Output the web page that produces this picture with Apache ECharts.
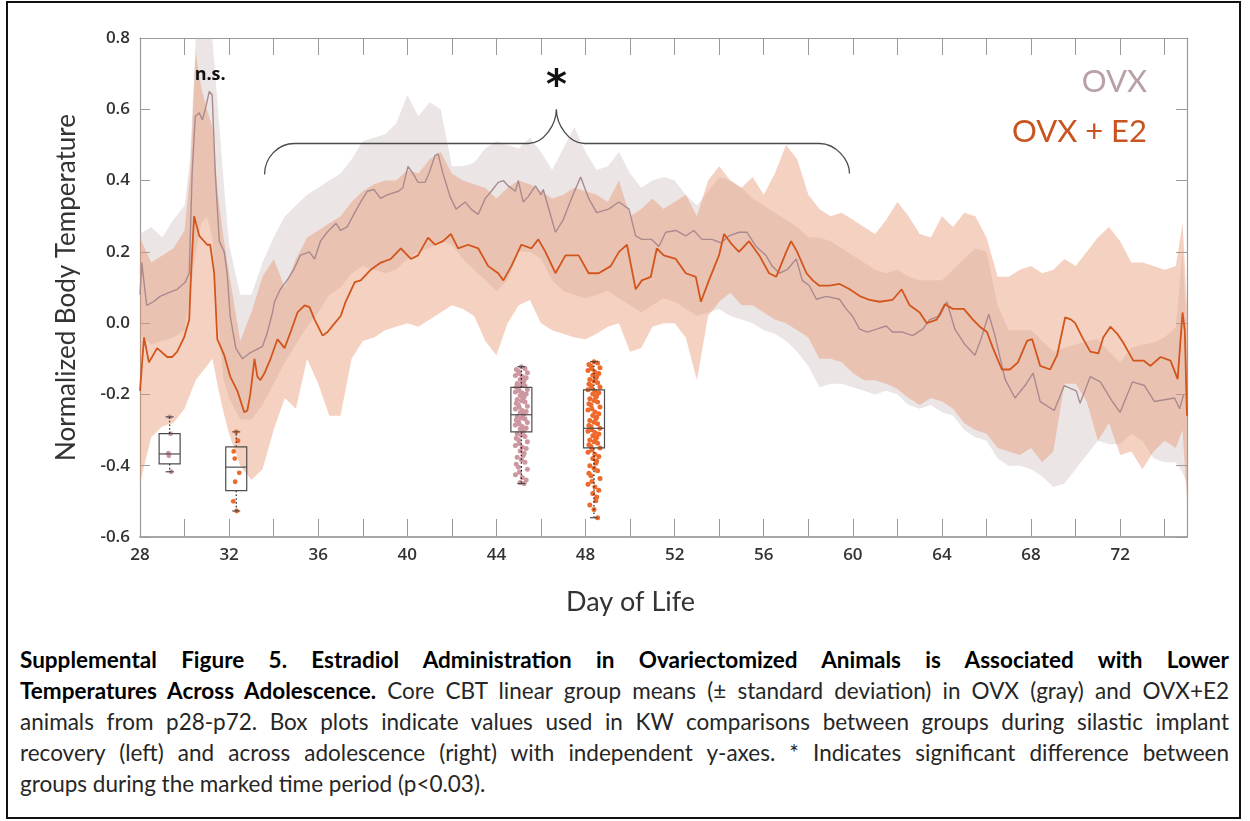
<!DOCTYPE html>
<html>
<head>
<meta charset="utf-8">
<title>Supplemental Figure 5</title>
<script src="https://cdn.jsdelivr.net/npm/echarts/dist/echarts.min.js"></script>
<style>
  html, body { margin: 0; padding: 0; background: #fff; }
  #frame { position: absolute; left: 6px; top: 1px; width: 1235px; height: 818px; border: 2px solid #111; box-sizing: border-box; }
  #chart { position: absolute; left: 0; top: 0; width: 1250px; height: 640px; }
  #caption { position: absolute; left: 20px; top: 644px; width: 1209px; font-family: Lato, "Open Sans", sans-serif; font-size: 22.5px; line-height: 31px; color: #262626; }
  #caption div { text-align: justify; text-align-last: justify; }
  #caption div.last { text-align-last: left; }
  #caption b { color: #000; font-weight: 700; }
</style>
</head>
<body>
<div id="frame"></div>
<div id="chart"></div>
<div id="caption">
  <div><b>Supplemental Figure 5. Estradiol Administration in Ovariectomized Animals is Associated with Lower</b></div>
  <div><b>Temperatures Across Adolescence.</b> Core CBT linear group means (± standard deviation) in OVX (gray) and OVX+E2</div>
  <div>animals from p28-p72. Box plots indicate values used in KW comparisons between groups during silastic implant</div>
  <div>recovery (left) and across adolescence (right) with independent y-axes. * Indicates significant difference between</div>
  <div class="last">groups during the marked time period (p&lt;0.03).</div>
</div>
<script>
// ---- Day grid used by the standard-deviation bands ----
const bandDays = [28,28.5,29,29.5,30,30.25,30.5,30.75,31,31.25,31.5,31.75,32,32.5,33,33.5,34,34.5,35,35.5,
  36,36.5,37,37.5,38,38.5,39,39.5,40,40.5,41,41.5,42,42.5,43,43.5,44,44.5,45,45.5,
  46,46.5,47,47.5,48,48.5,49,49.5,50,50.5,51,51.5,52,52.5,53,53.5,54,54.5,55,55.5,
  56,56.5,57,57.5,58,58.5,59,59.5,60,60.5,61,61.5,62,62.5,63,63.5,64,64.5,65,65.5,
  66,66.5,67,67.5,68,68.5,69,69.5,70,70.5,71,71.5,72,72.5,73,73.5,74,74.5,74.8,75];

// OVX + E2: mean ± SD envelope
const e2Upper = [0.24,0.17,0.19,0.21,0.26,0.42,0.76,0.66,0.60,0.55,0.36,0.24,0.14,-0.05,0.03,0.13,0.18,0.10,0.18,0.24,
  0.26,0.28,0.30,0.34,0.37,0.39,0.40,0.40,0.43,0.42,0.46,0.48,0.42,0.40,0.39,0.38,0.35,0.38,0.40,0.39,
  0.37,0.35,0.36,0.38,0.37,0.36,0.34,0.40,0.30,0.32,0.35,0.32,0.34,0.36,0.30,0.40,0.44,0.40,0.38,0.41,
  0.36,0.42,0.50,0.46,0.36,0.32,0.30,0.31,0.29,0.27,0.25,0.29,0.34,0.30,0.25,0.24,0.30,0.27,0.31,0.30,
  0.24,0.13,0.13,0.15,0.16,0.14,0.15,0.18,0.16,0.20,0.24,0.27,0.23,0.17,0.17,0.16,0.15,0.16,0.28,0.05];
const e2Lower = [-0.45,-0.32,-0.29,-0.28,-0.24,-0.20,-0.16,-0.14,-0.12,-0.10,-0.18,-0.25,-0.31,-0.40,-0.44,-0.41,-0.30,-0.21,-0.24,-0.10,
  -0.17,-0.26,-0.26,-0.10,-0.05,-0.04,-0.02,-0.01,0.00,-0.01,0.01,0.03,0.05,0.04,0.02,-0.05,-0.09,0.00,0.05,0.065,
  0.00,-0.02,-0.03,-0.04,-0.045,-0.03,-0.01,0.00,-0.08,-0.07,-0.01,0.00,0.00,-0.04,-0.16,0.02,0.06,0.085,0.05,0.05,
  0.03,0.01,0.00,-0.02,-0.04,-0.10,-0.10,-0.11,-0.14,-0.16,-0.16,-0.17,-0.185,-0.21,-0.23,-0.21,-0.22,-0.24,-0.28,-0.30,
  -0.31,-0.35,-0.36,-0.37,-0.35,-0.39,-0.36,-0.17,-0.17,-0.22,-0.33,-0.28,-0.37,-0.36,-0.41,-0.36,-0.33,-0.35,-0.30,-0.50];

// OVX: mean ± SD envelope
const ovxUpper = [0.25,0.27,0.24,0.29,0.33,0.46,0.88,0.95,0.95,0.88,0.60,0.40,0.22,0.08,0.08,0.17,0.24,0.30,0.33,0.36,
  0.38,0.40,0.42,0.46,0.51,0.52,0.53,0.56,0.64,0.58,0.62,0.60,0.44,0.44,0.45,0.49,0.51,0.50,0.49,0.52,
  0.48,0.43,0.49,0.55,0.48,0.43,0.44,0.48,0.42,0.38,0.40,0.41,0.40,0.36,0.33,0.37,0.41,0.40,0.38,0.35,
  0.33,0.31,0.29,0.27,0.24,0.24,0.23,0.21,0.19,0.17,0.15,0.14,0.15,0.13,0.12,0.12,0.12,0.15,0.18,0.21,
  0.20,0.05,-0.02,-0.02,-0.02,-0.05,-0.08,-0.07,-0.06,-0.05,-0.045,-0.08,-0.11,-0.07,-0.06,-0.055,-0.04,-0.01,0.20,-0.05];
const ovxLower = [-0.03,-0.06,-0.05,-0.04,-0.02,0.08,0.20,0.28,0.30,0.24,0.00,-0.16,-0.21,-0.27,-0.27,-0.23,-0.17,-0.11,-0.06,-0.01,
  0.03,0.08,0.10,0.14,0.16,0.15,0.14,0.15,0.18,0.20,0.21,0.23,0.22,0.18,0.15,0.12,0.09,0.12,0.20,0.20,
  0.18,0.12,0.09,0.08,0.07,0.08,0.09,0.07,0.05,0.03,0.05,0.07,0.06,0.04,0.02,0.03,0.04,0.02,0.01,0.00,
  -0.02,-0.03,-0.05,-0.08,-0.12,-0.18,-0.17,-0.17,-0.18,-0.19,-0.20,-0.19,-0.20,-0.23,-0.24,-0.23,-0.25,-0.26,-0.30,-0.32,
  -0.33,-0.38,-0.40,-0.40,-0.41,-0.43,-0.46,-0.45,-0.41,-0.37,-0.33,-0.34,-0.34,-0.31,-0.33,-0.38,-0.39,-0.39,-0.42,-0.45];

// Group mean traces: [day, normalized temperature]
const e2Mean = [[28,-0.19],[28.18,-0.04],[28.4,-0.11],[28.77,-0.07],[29.22,-0.095],[29.44,-0.095],[29.67,-0.08],[29.98,-0.04],
  [30.21,0.01],[30.3,0.15],[30.43,0.30],[30.66,0.245],[31.02,0.22],[31.15,0.22],[31.33,0.14],[31.47,-0.045],[31.78,-0.09],
  [32.05,-0.15],[32.37,-0.19],[32.68,-0.25],[32.82,-0.245],[32.95,-0.2],[33.14,-0.1],[33.27,-0.15],[33.41,-0.16],[33.59,-0.14],
  [33.86,-0.1],[34.17,-0.045],[34.49,-0.07],[34.76,-0.025],[35.07,0.03],[35.39,0.05],[35.61,0.045],[35.84,0.01],[36.2,-0.035],
  [36.42,-0.025],[36.74,0.0],[37.01,0.02],[37.23,0.06],[37.64,0.115],[37.91,0.12],[38.36,0.15],[38.81,0.17],[39.26,0.18],
  [39.71,0.21],[40.16,0.18],[40.48,0.19],[40.93,0.24],[41.24,0.22],[41.6,0.23],[41.96,0.25],[42.28,0.21],[42.73,0.22],
  [43.18,0.21],[43.63,0.16],[44.08,0.14],[44.31,0.12],[44.67,0.16],[45.12,0.22],[45.57,0.21],[45.88,0.235],[46.2,0.2],
  [46.65,0.14],[47.1,0.19],[47.69,0.19],[48.14,0.14],[48.59,0.14],[49.13,0.16],[49.5,0.2],[49.86,0.22],[50.25,0.095],
  [50.53,0.12],[50.93,0.13],[51.2,0.21],[51.51,0.19],[52.05,0.18],[52.5,0.14],[52.95,0.13],[53.18,0.06],[53.54,0.12],
  [53.99,0.19],[54.22,0.25],[54.58,0.22],[54.89,0.2],[55.34,0.23],[55.8,0.19],[56.24,0.14],[56.56,0.13],[57.01,0.2],
  [57.23,0.23],[57.5,0.2],[57.92,0.14],[58.2,0.12],[58.5,0.105],[58.95,0.105],[59.41,0.11],[59.86,0.095],[60.31,0.076],
  [60.76,0.065],[61.2,0.06],[61.78,0.065],[62.19,0.095],[62.55,0.05],[63.0,0.03],[63.32,0.0],[63.77,0.01],[64.13,0.053],
  [64.49,0.04],[64.98,0.04],[65.39,0.01],[65.7,-0.01],[66.02,-0.025],[66.29,-0.07],[66.69,-0.13],[67.05,-0.13],[67.41,-0.11],
  [67.82,-0.05],[68.05,-0.045],[68.41,-0.12],[68.86,-0.13],[69.17,-0.09],[69.53,0.016],[69.8,0.01],[69.98,0.0],[70.3,-0.04],
  [70.66,-0.08],[71.02,-0.085],[71.24,-0.04],[71.56,-0.01],[71.87,-0.03],[72.14,-0.055],[72.59,-0.105],[73.05,-0.105],
  [73.36,-0.12],[73.81,-0.095],[74.26,-0.105],[74.58,-0.157],[74.8,0.03],[74.9,-0.02],[75,-0.26]];

const ovxMean = [[28,0.08],[28.08,0.17],[28.3,0.05],[28.6,0.06],[28.9,0.075],[29.35,0.087],[29.67,0.095],[30.03,0.115],
  [30.21,0.14],[30.34,0.42],[30.48,0.58],[30.66,0.59],[30.8,0.57],[30.93,0.6],[31.11,0.65],[31.24,0.64],[31.38,0.42],
  [31.56,0.23],[31.78,0.2],[31.91,0.14],[32.05,0.02],[32.3,-0.07],[32.6,-0.1],[32.9,-0.085],[33.2,-0.075],[33.5,-0.065],
  [33.7,-0.03],[33.95,0.03],[34.04,0.06],[34.3,0.095],[34.6,0.12],[34.9,0.15],[35.2,0.19],[35.6,0.2],[35.84,0.18],
  [36.1,0.23],[36.4,0.255],[36.8,0.28],[37.0,0.26],[37.3,0.27],[37.64,0.31],[37.91,0.34],[38.2,0.37],[38.5,0.375],
  [38.8,0.35],[39.1,0.36],[39.6,0.37],[39.8,0.38],[40.03,0.44],[40.25,0.42],[40.48,0.395],[40.8,0.395],[41.0,0.425],
  [41.24,0.47],[41.38,0.475],[41.6,0.42],[41.92,0.355],[42.19,0.32],[42.6,0.34],[42.86,0.32],[43.18,0.305],[43.5,0.35],
  [43.77,0.37],[44.08,0.395],[44.31,0.4],[44.53,0.385],[44.85,0.37],[44.98,0.4],[45.2,0.34],[45.43,0.355],[45.75,0.385],
  [46.0,0.36],[46.1,0.375],[46.65,0.255],[47.0,0.29],[47.37,0.35],[47.78,0.41],[48.14,0.35],[48.5,0.31],[49.04,0.32],
  [49.5,0.34],[49.95,0.32],[50.25,0.245],[50.53,0.235],[50.97,0.235],[51.29,0.215],[51.6,0.255],[52.05,0.26],[52.5,0.245],
  [52.86,0.26],[53.23,0.235],[53.68,0.235],[54.08,0.225],[54.44,0.245],[54.89,0.255],[55.25,0.255],[55.66,0.215],
  [56.1,0.19],[56.38,0.16],[56.7,0.14],[57.05,0.15],[57.46,0.18],[57.73,0.12],[58.05,0.105],[58.36,0.067],[58.81,0.075],
  [59.4,0.067],[59.7,0.04],[59.98,0.02],[60.3,-0.017],[60.66,-0.025],[61.06,-0.017],[61.5,-0.008],[61.78,-0.025],
  [62.23,-0.025],[62.68,-0.035],[63.14,-0.017],[63.45,0.01],[63.9,0.02],[64.22,0.06],[64.58,-0.017],[65.03,-0.06],
  [65.48,-0.09],[65.75,-0.045],[66.1,0.025],[66.38,-0.035],[66.83,-0.157],[67.28,-0.21],[67.73,-0.175],[68.09,-0.14],
  [68.41,-0.22],[69.04,-0.245],[69.49,-0.175],[70.03,-0.19],[70.2,-0.225],[70.66,-0.15],[71.11,-0.165],[71.65,-0.22],
  [72.0,-0.25],[72.55,-0.165],[73.09,-0.175],[73.54,-0.22],[73.99,-0.215],[74.44,-0.21],[74.67,-0.24],[74.85,-0.2]];

// Box plot summaries: [min, Q1, median, Q3, max]
const boxDays = [29.33, 32.32, 45.12, 48.38];
const ovxRecoveryBox = [-0.417, -0.395, -0.367, -0.31, -0.263];
const e2RecoveryBox = [-0.527, -0.47, -0.404, -0.347, -0.305];
const ovxAdolBox = [-0.45, -0.305, -0.257, -0.18, -0.122];
const e2AdolBox = [-0.546, -0.35, -0.295, -0.187, -0.108];

// Individual animal values behind each box
const ovxRecoveryDots = [-0.263, -0.31, -0.365, -0.372, -0.417];
const e2RecoveryDots = [-0.305, -0.33, -0.36, -0.38, -0.42, -0.445, -0.50, -0.527];
const ovxAdolDots = [-0.122,-0.127,-0.13,-0.136,-0.139,-0.141,-0.147,-0.15,-0.153,-0.158,-0.16,-0.166,-0.169,-0.172,
  -0.176,-0.179,-0.182,-0.186,-0.19,-0.193,-0.196,-0.199,-0.203,-0.207,-0.21,-0.214,-0.218,-0.221,-0.225,-0.23,-0.233,
  -0.236,-0.241,-0.245,-0.248,-0.251,-0.255,-0.258,-0.262,-0.266,-0.269,-0.272,-0.276,-0.279,-0.283,-0.286,-0.29,-0.294,
  -0.297,-0.301,-0.305,-0.31,-0.314,-0.318,-0.323,-0.327,-0.333,-0.338,-0.343,-0.348,-0.352,-0.359,-0.365,-0.371,-0.376,
  -0.383,-0.39,-0.396,-0.404,-0.41,-0.418,-0.425,-0.433,-0.44,-0.447,-0.45];
const e2AdolDots = [-0.108,-0.112,-0.116,-0.121,-0.125,-0.128,-0.133,-0.137,-0.141,-0.146,-0.15,-0.154,-0.158,-0.162,
  -0.167,-0.171,-0.175,-0.179,-0.183,-0.187,-0.191,-0.195,-0.199,-0.204,-0.208,-0.212,-0.217,-0.221,-0.226,-0.23,-0.235,
  -0.24,-0.244,-0.249,-0.254,-0.259,-0.264,-0.268,-0.273,-0.278,-0.282,-0.287,-0.291,-0.295,-0.299,-0.303,-0.307,-0.311,
  -0.316,-0.32,-0.324,-0.328,-0.333,-0.337,-0.341,-0.346,-0.35,-0.356,-0.362,-0.368,-0.374,-0.38,-0.387,-0.393,-0.4,
  -0.407,-0.414,-0.421,-0.428,-0.436,-0.444,-0.452,-0.46,-0.469,-0.478,-0.488,-0.498,-0.51,-0.523,-0.546];

// Significance bracket over the adolescent window, and labels
const braceLeft = [33.59, 0.417];
const braceTip = [46.69, 0.60];
const braceRight = [59.85, 0.42];
const braceLevel = 0.504;
const nsLabel = { text: 'n.s.', at: [31.15, 0.697] };
const starLabel = { text: '*', at: [46.7, 0.66] };

// Axis ranges and tick labels
const xRange = [28, 75];
const yRange = [-0.6, 0.8];
const xLabelDays = [28, 32, 36, 40, 44, 48, 52, 56, 60, 64, 68, 72];

// ---- colours ----
const C = {
  ovxBand: 'rgba(188,170,170,0.30)',
  e2Band: 'rgba(230,146,108,0.42)',
  ovxLine: '#a98a8e',
  e2Line: '#d2561c',
  ovxDot: '#cd97a0',
  e2Dot: '#ee6a2c',
  box: '#4d4d4d',
  axis: '#9a9a9a',
  text: '#333'
};

// horizontal scatter of the strip-chart dots (unitless pattern, scaled in px)
const jitterPattern = [0, 0.8, -0.5, 0.3, -1, 0.6, -0.2, 1, -0.7, 0.15, -0.85, 0.45, -0.35];

const chart = echarts.init(document.getElementById('chart'), null, { renderer: 'canvas' });

function bandSeries(upper, lower, fill, z) {
  return {
    type: 'custom', z: z, silent: true, clip: true,
    data: [[bandDays[0], upper[0]]],
    renderItem: function (params, api) {
      const pts = [];
      for (let i = 0; i < bandDays.length; i++) pts.push(api.coord([bandDays[i], upper[i]]));
      for (let i = bandDays.length - 1; i >= 0; i--) pts.push(api.coord([bandDays[i], lower[i]]));
      const cs = params.coordSys;
      return {
        type: 'polygon',
        shape: { points: echarts.graphic.clipPointsByRect(pts, { x: cs.x, y: cs.y, width: cs.width, height: cs.height }) },
        style: { fill: fill, stroke: null }
      };
    }
  };
}

function dotSeries(day, values, color, radius, spread, z) {
  return {
    type: 'custom', z: z, silent: true,
    data: values.map(function (v) { return [day, v]; }),
    renderItem: function (params, api) {
      const p = api.coord([api.value(0), api.value(1)]);
      const j = jitterPattern[(params.dataIndex * 5) % jitterPattern.length] * spread;
      return { type: 'circle', shape: { cx: p[0] + j, cy: p[1], r: radius }, style: { fill: color } };
    }
  };
}

const boxRows = [ovxRecoveryBox, e2RecoveryBox, ovxAdolBox, e2AdolBox].map(function (b, i) {
  return [boxDays[i]].concat(b);
});

const boxSeries = {
  type: 'custom', z: 6, silent: true,
  data: boxRows,
  encode: { x: 0, y: [1, 2, 3, 4, 5] },
  renderItem: function (params, api) {
    const d = api.value(0);
    const x = api.coord([d, 0])[0];
    const y = [1, 2, 3, 4, 5].map(function (k) { return api.coord([d, api.value(k)])[1]; });
    const hw = 10.5, cap = 4;
    const line = function (x1, y1, x2, y2, dash) {
      return { type: 'line', shape: { x1: x1, y1: y1, x2: x2, y2: y2 },
        style: { stroke: dash ? '#222' : C.box, lineWidth: 1.2, lineDash: dash ? [1.6, 2.2] : null } };
    };
    return {
      type: 'group',
      children: [
        line(x, y[3], x, y[4], true),
        line(x, y[1], x, y[0], true),
        line(x - cap, y[4], x + cap, y[4]),
        line(x - cap, y[0], x + cap, y[0]),
        { type: 'rect', shape: { x: x - hw, y: y[3], width: hw * 2, height: y[1] - y[3] },
          style: { fill: null, stroke: C.box, lineWidth: 1.2 } },
        line(x - hw, y[2], x + hw, y[2])
      ]
    };
  }
};

const annotationSeries = {
  type: 'custom', z: 8, silent: true,
  data: [[braceTip[0], braceTip[1]]],
  renderItem: function (params, api) {
    const l = api.coord(braceLeft), t = api.coord(braceTip), r = api.coord(braceRight);
    const hy = api.coord([braceTip[0], braceLevel])[1];
    const k = 0.55, rc = 30, rt = 28;
    const d = [
      'M', l[0], l[1],
      'C', l[0], l[1] - k * (l[1] - hy), l[0] + rc * (1 - k), hy, l[0] + rc, hy,
      'L', t[0] - rt, hy,
      'C', t[0] - rt * (1 - k), hy, t[0], hy - k * (hy - t[1]), t[0], t[1],
      'C', t[0], hy - k * (hy - t[1]), t[0] + rt * (1 - k), hy, t[0] + rt, hy,
      'L', r[0] - rc, hy,
      'C', r[0] - rc * (1 - k), hy, r[0], hy + k * (r[1] - hy), r[0], r[1]
    ].join(' ');
    const ns = api.coord(nsLabel.at), st = api.coord(starLabel.at);
    return {
      type: 'group',
      children: [
        { type: 'path', shape: { pathData: d }, style: { fill: null, stroke: '#4a4a4a', lineWidth: 1.3 } },
        { type: 'text', x: ns[0], y: ns[1], style: { text: nsLabel.text, fill: '#111',
          font: 'bold 18px "Open Sans", sans-serif', align: 'center', verticalAlign: 'middle' } },
        { type: 'text', x: st[0], y: st[1], style: { text: starLabel.text, fill: '#111',
          font: 'bold 40px "DejaVu Sans", sans-serif', align: 'center', verticalAlign: 'middle' } }
      ]
    };
  }
};

const tickLabel = { color: C.text, fontSize: 17, fontWeight: 600, fontFamily: '"Open Sans", sans-serif' };

const option = {
  animation: false,
  backgroundColor: 'transparent',
  grid: { left: 140, right: 63, top: 38, bottom: 103, containLabel: false },
  xAxis: [
    {
      type: 'value', position: 'bottom', min: xRange[0], max: xRange[1], interval: 2,
      axisLine: { show: true, onZero: false, lineStyle: { color: '#8a8a8a', width: 1.6 } },
      axisTick: { show: true, inside: true, length: 18, lineStyle: { color: C.axis, width: 1 } },
      axisLabel: Object.assign({ margin: 10, showMaxLabel: false,
        formatter: function (v) { return xLabelDays.indexOf(Math.round(v)) >= 0 ? String(Math.round(v)) : ''; } }, tickLabel),
      splitLine: { show: false }
    },
    {
      type: 'value', position: 'top', min: xRange[0], max: xRange[1], interval: 2,
      axisLine: { show: true, onZero: false, lineStyle: { color: C.axis, width: 1.2 } },
      axisTick: { show: true, inside: true, length: 17, lineStyle: { color: C.axis, width: 1 } },
      axisLabel: { show: false }, splitLine: { show: false }
    }
  ],
  yAxis: [
    {
      type: 'value', position: 'left', min: yRange[0], max: yRange[1], interval: 0.2,
      axisLine: { show: true, onZero: false, lineStyle: { color: C.axis, width: 1.2 } },
      axisTick: { show: true, inside: true, length: 10, lineStyle: { color: C.axis, width: 1 } },
      axisLabel: Object.assign({ margin: 10, formatter: function (v) { return (Math.abs(v) < 1e-9 ? 0 : v).toFixed(1); } }, tickLabel),
      splitLine: { show: false },
      name: 'Normalized Body Temperature', nameLocation: 'middle', nameGap: 60,
      nameTextStyle: { color: C.text, fontSize: 26, fontFamily: 'Lato, sans-serif' }
    },
    {
      type: 'value', position: 'right', min: yRange[0], max: yRange[1], interval: 0.2,
      axisLine: { show: true, onZero: false, lineStyle: { color: C.axis, width: 1.2 } },
      axisTick: { show: true, inside: true, length: 11, lineStyle: { color: C.axis, width: 1 } },
      axisLabel: { show: false }, splitLine: { show: false }
    }
  ],
  graphic: [
    { type: 'text', right: 103, top: 66, style: { text: 'OVX', fill: '#b8a0a5', font: '31px Lato, sans-serif' } },
    { type: 'text', right: 103, top: 116, style: { text: 'OVX + E2', fill: '#c8551f', font: '31px Lato, sans-serif' } },
    { type: 'text', left: 566, top: 589, style: { text: 'Day of Life', fill: C.text, font: '27px Lato, sans-serif' } }
  ],
  series: [
    bandSeries(ovxUpper, ovxLower, C.ovxBand, 1),
    bandSeries(e2Upper, e2Lower, C.e2Band, 2),
    { type: 'line', z: 3, data: ovxMean, showSymbol: false, symbol: 'none', silent: true,
      lineStyle: { color: C.ovxLine, width: 1.4 }, clip: true },
    { type: 'line', z: 4, data: e2Mean, showSymbol: false, symbol: 'none', silent: true,
      lineStyle: { color: C.e2Line, width: 1.8 }, clip: true },
    dotSeries(boxDays[0], ovxRecoveryDots, C.ovxDot, 2.4, 1.5, 5),
    dotSeries(boxDays[1], e2RecoveryDots, C.e2Dot, 2.4, 3, 5),
    dotSeries(boxDays[2], ovxAdolDots, C.ovxDot, 2.5, 6, 5),
    dotSeries(boxDays[3], e2AdolDots, C.e2Dot, 2.5, 6, 5),
    boxSeries,
    annotationSeries
  ]
};

chart.setOption(option);
</script>
</body>
</html>
